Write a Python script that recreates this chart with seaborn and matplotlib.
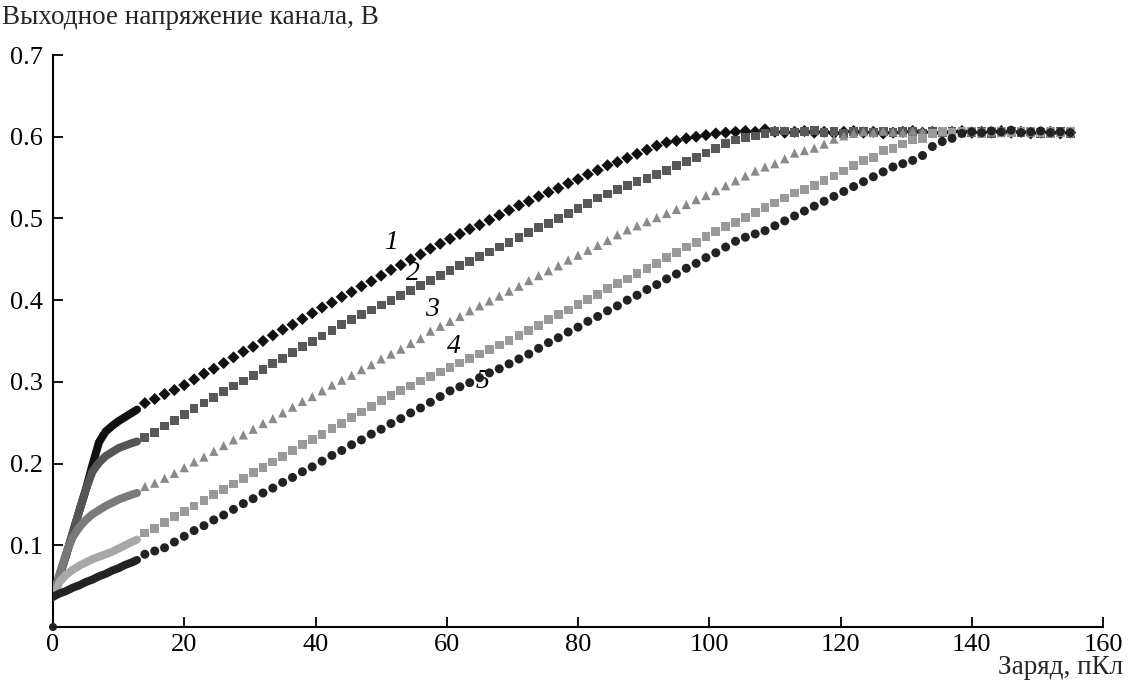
import matplotlib
matplotlib.use("Agg")
import matplotlib.pyplot as plt
import seaborn as sns
import pandas as pd

# ---------------- data ----------------
# dense initial segment (charge, pC)
dense_x = [0, 1, 2, 3, 4, 5, 6, 7, 8, 9, 10, 11, 12, 12.8]
dense_1 = [0.037, 0.063, 0.088, 0.115, 0.142, 0.168, 0.198, 0.226, 0.239, 0.246, 0.252, 0.257, 0.262, 0.266]
dense_2 = [0.037, 0.063, 0.088, 0.115, 0.142, 0.168, 0.190, 0.201, 0.209, 0.214, 0.219, 0.222, 0.225, 0.227]
dense_3 = [0.037, 0.065, 0.090, 0.110, 0.122, 0.131, 0.138, 0.143, 0.148, 0.152, 0.156, 0.159, 0.162, 0.164]
dense_4 = [0.037, 0.055, 0.064, 0.070, 0.075, 0.079, 0.083, 0.086, 0.089, 0.092, 0.096, 0.100, 0.104, 0.107]
dense_5 = [0.037, 0.041, 0.044, 0.048, 0.051, 0.055, 0.058, 0.062, 0.065, 0.069, 0.072, 0.076, 0.079, 0.082]

# sparse part (charge, pC)
sparse_x = [14.0, 15.5, 17.0, 18.5, 20.0, 21.5, 23.0, 24.5, 26.0, 27.5,
            29.0, 30.5, 32.0, 33.5, 35.0, 36.5, 38.0, 39.5, 41.0, 42.5,
            44.0, 45.5, 47.0, 48.5, 50.0, 51.5, 53.0, 54.5, 56.0, 57.5,
            59.0, 60.5, 62.0, 63.5, 65.0, 66.5, 68.0, 69.5, 71.0, 72.5,
            74.0, 75.5, 77.0, 78.5, 80.0, 81.5, 83.0, 84.5, 86.0, 87.5,
            89.0, 90.5, 92.0, 93.5, 95.0, 96.5, 98.0, 99.5, 101.0, 102.5,
            104.0, 105.5, 107.0, 108.5, 110.0, 111.5, 113.0, 114.5, 116.0, 117.5,
            119.0, 120.5, 122.0, 123.5, 125.0, 126.5, 128.0, 129.5, 131.0, 132.5,
            134.0, 135.5, 137.0, 138.5, 140.0, 141.5, 143.0, 144.5, 146.0, 147.5,
            149.0, 150.5, 152.0, 153.5, 155.0]

sparse_1 = [0.274, 0.279, 0.285, 0.290, 0.296, 0.303, 0.310, 0.316, 0.323, 0.330,
            0.337, 0.343, 0.350, 0.357, 0.364, 0.370, 0.377, 0.384, 0.391, 0.397,
            0.404, 0.410, 0.417, 0.423, 0.430, 0.437, 0.443, 0.450, 0.456, 0.463,
            0.469, 0.475, 0.481, 0.487, 0.492, 0.498, 0.504, 0.510, 0.516, 0.521,
            0.527, 0.532, 0.537, 0.543, 0.548, 0.554, 0.559, 0.565, 0.569, 0.574,
            0.579, 0.584, 0.589, 0.593, 0.595, 0.598, 0.600, 0.602, 0.604, 0.605,
            0.606, 0.607, 0.606, 0.609, 0.606, 0.605, 0.606, 0.607, 0.605, 0.606,
            0.604, 0.606, 0.607, 0.605, 0.606, 0.604, 0.605, 0.606, 0.607, 0.605,
            0.606, 0.604, 0.606, 0.607, 0.605, 0.606, 0.605, 0.607, 0.605, 0.606,
            0.604, 0.605, 0.606, 0.604, 0.605]

sparse_2 = [0.232, 0.238, 0.246, 0.253, 0.260, 0.267, 0.274, 0.281, 0.288, 0.295,
            0.301, 0.308, 0.315, 0.322, 0.329, 0.336, 0.343, 0.349, 0.356, 0.363,
            0.370, 0.376, 0.382, 0.388, 0.394, 0.400, 0.406, 0.412, 0.418, 0.424,
            0.430, 0.436, 0.442, 0.447, 0.453, 0.459, 0.465, 0.471, 0.477, 0.483,
            0.489, 0.494, 0.500, 0.506, 0.512, 0.518, 0.525, 0.530, 0.535, 0.540,
            0.545, 0.549, 0.554, 0.559, 0.565, 0.570, 0.575, 0.580, 0.586, 0.592,
            0.596, 0.599, 0.601, 0.604, 0.606, 0.607, 0.605, 0.606, 0.608, 0.605,
            0.606, 0.604, 0.606, 0.607, 0.605, 0.606, 0.605, 0.607, 0.606, 0.604,
            0.606, 0.605, 0.607, 0.606, 0.605, 0.606, 0.604, 0.606, 0.607, 0.605,
            0.606, 0.604, 0.605, 0.606, 0.604]

sparse_3 = [0.172, 0.176, 0.182, 0.188, 0.195, 0.202, 0.208, 0.215, 0.222, 0.229,
            0.235, 0.242, 0.249, 0.255, 0.262, 0.269, 0.276, 0.282, 0.289, 0.296,
            0.302, 0.308, 0.315, 0.321, 0.328, 0.334, 0.340, 0.347, 0.353, 0.362,
            0.368, 0.374, 0.380, 0.387, 0.393, 0.399, 0.405, 0.411, 0.417, 0.424,
            0.430, 0.436, 0.442, 0.449, 0.455, 0.461, 0.467, 0.473, 0.480, 0.486,
            0.491, 0.496, 0.501, 0.506, 0.511, 0.517, 0.523, 0.528, 0.534, 0.540,
            0.546, 0.552, 0.558, 0.563, 0.567, 0.573, 0.580, 0.583, 0.586, 0.591,
            0.597, 0.601, 0.604, 0.606, 0.605, 0.607, 0.606, 0.605, 0.607, 0.606,
            0.605, 0.606, 0.607, 0.605, 0.606, 0.604, 0.606, 0.605, 0.607, 0.606,
            0.605, 0.606, 0.604, 0.606, 0.605]

sparse_4 = [0.115, 0.121, 0.128, 0.135, 0.141, 0.148, 0.155, 0.162, 0.168, 0.175,
            0.182, 0.189, 0.195, 0.202, 0.209, 0.216, 0.223, 0.229, 0.236, 0.243,
            0.249, 0.256, 0.263, 0.270, 0.277, 0.283, 0.289, 0.295, 0.301, 0.307,
            0.312, 0.318, 0.323, 0.329, 0.334, 0.340, 0.345, 0.351, 0.357, 0.363,
            0.369, 0.376, 0.382, 0.388, 0.395, 0.401, 0.407, 0.414, 0.420, 0.426,
            0.433, 0.439, 0.445, 0.452, 0.458, 0.465, 0.471, 0.478, 0.484, 0.490,
            0.495, 0.501, 0.507, 0.513, 0.519, 0.525, 0.531, 0.535, 0.540, 0.546,
            0.552, 0.558, 0.565, 0.571, 0.575, 0.583, 0.586, 0.591, 0.596, 0.598,
            0.604, 0.606, 0.605, 0.607, 0.606, 0.605, 0.607, 0.606, 0.605, 0.606,
            0.607, 0.605, 0.606, 0.605, 0.606]

sparse_5 = [0.089, 0.093, 0.097, 0.104, 0.111, 0.118, 0.124, 0.131, 0.137, 0.144,
            0.151, 0.157, 0.164, 0.170, 0.177, 0.183, 0.190, 0.196, 0.203, 0.210,
            0.216, 0.223, 0.229, 0.236, 0.242, 0.249, 0.255, 0.262, 0.268, 0.275,
            0.282, 0.289, 0.294, 0.299, 0.305, 0.311, 0.316, 0.322, 0.328, 0.334,
            0.341, 0.348, 0.354, 0.361, 0.367, 0.374, 0.380, 0.387, 0.393, 0.400,
            0.406, 0.413, 0.419, 0.426, 0.432, 0.439, 0.445, 0.452, 0.458, 0.465,
            0.472, 0.477, 0.481, 0.485, 0.491, 0.497, 0.503, 0.509, 0.515, 0.521,
            0.527, 0.533, 0.539, 0.545, 0.551, 0.557, 0.563, 0.567, 0.571, 0.577,
            0.588, 0.594, 0.598, 0.604, 0.606, 0.605, 0.607, 0.606, 0.608, 0.605,
            0.606, 0.607, 0.605, 0.606, 0.605]

origin_x = [0]
origin_y = [0]

curve_labels = ["1", "2", "3", "4", "5"]
label_x = [51.5, 54.8, 57.8, 61.1, 65.5]
label_y = [0.470, 0.433, 0.388, 0.343, 0.300]

x_ticks = [0, 20, 40, 60, 80, 100, 120, 140, 160]
y_ticks = [0.1, 0.2, 0.3, 0.4, 0.5, 0.6, 0.7]
y_tick_labels = ["0.1", "0.2", "0.3", "0.4", "0.5", "0.6", "0.7"]

y_title = "Выходное напряжение канала, В"
x_title = "Заряд, пКл"

for s in (sparse_1, sparse_2, sparse_3, sparse_4, sparse_5):
    assert len(s) == len(sparse_x), len(s)

# ---------------- style ----------------
sns.set_theme(style="white")
plt.rcParams['font.family'] = ['Liberation Serif', 'DejaVu Serif']

fig = plt.figure(figsize=(11.28, 6.87), dpi=100)
ax = fig.add_axes([53 / 1128, 60 / 687, 1050 / 1128, 572 / 687])

dense_all = [dense_1, dense_2, dense_3, dense_4, dense_5]
sparse_all = [sparse_1, sparse_2, sparse_3, sparse_4, sparse_5]
dense_colors = ["#111111", "#555555", "#7a7a7a", "#a8a8a8", "#222222"]
marker_colors = ["#111111", "#585858", "#8a8a8a", "#9a9a9a", "#222222"]
markers = ["D", "s", "^", "s", "o"]
sizes = [38, 40, 44, 40, 42]

for i in range(5):
    sns.lineplot(x=dense_x, y=dense_all[i], ax=ax, color=dense_colors[i],
                 linewidth=5.8, sort=False, solid_capstyle="round", zorder=3 + i)
    sns.scatterplot(x=sparse_x, y=sparse_all[i], ax=ax, marker=markers[i],
                    s=sizes[i], color=marker_colors[i], edgecolor="none",
                    linewidth=0, zorder=3 + i)

sns.scatterplot(x=origin_x, y=origin_y, ax=ax, color="#222222", s=34,
                edgecolor="none", clip_on=False, zorder=10)

for t, lx, ly in zip(curve_labels, label_x, label_y):
    ax.text(lx, ly, t, fontsize=20, fontstyle="italic", ha="center",
            va="center", color="black")

ax.set_xlim(0, 160)
ax.set_ylim(0, 0.7)
ax.set_xticks(x_ticks)
ax.set_xticklabels([str(v) for v in x_ticks])
ax.set_yticks(y_ticks)
ax.set_yticklabels(y_tick_labels)
ax.set_xlabel("")
ax.set_ylabel("")
ax.grid(False)
for side in ("top", "right"):
    ax.spines[side].set_visible(False)
for side in ("left", "bottom"):
    ax.spines[side].set_color("black")
    ax.spines[side].set_linewidth(1.5)
ax.tick_params(direction="in", length=7, width=1.3, colors="black",
               labelsize=19, left=True, bottom=True)
ax.tick_params(axis="y", pad=7)
ax.tick_params(axis="x", pad=5)

fig.text(0.002, 0.974, y_title, fontsize=19.5, ha="left", va="center")
fig.text(0.9956, 0.028, x_title, fontsize=19.5, ha="right", va="center")

fig.savefig("out.png", dpi=100, facecolor="white")
